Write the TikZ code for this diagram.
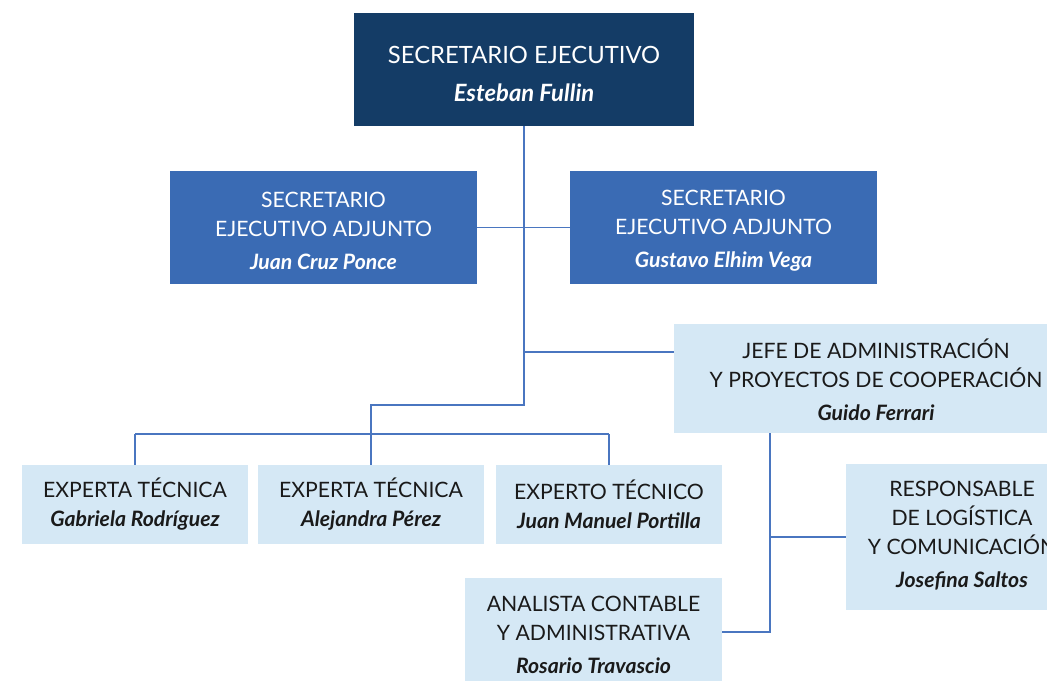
\documentclass[tikz,border=0pt]{standalone}
\usepackage{fontspec}
\setmainfont{Lato}
\definecolor{navy}{HTML}{143C66}
\definecolor{midblue}{HTML}{3A6BB4}
\definecolor{light}{HTML}{D5E8F5}
\definecolor{link}{HTML}{4A76C0}
\definecolor{ink}{HTML}{1A1A1A}
\tikzset{
  box/.style={rectangle, inner sep=0pt},
  topbox/.style={box, fill=navy},
  adjbox/.style={box, fill=midblue},
  lbox/.style={box, fill=light},
  txt/.style={inner sep=0pt, align=center, text=ink, font=\fontsize{21.2}{29}\selectfont},
  wtxt/.style={txt, text=white},
  conn/.style={draw=link, line width=1.5pt},
}
\newcommand{\nm}[1]{\textit{\textbf{#1}}}
\begin{document}
\begin{tikzpicture}[x=1pt,y=-1pt]
\useasboundingbox (0,0) rectangle (1047,681);
\clip (0,0) rectangle (1047,681);
\coordinate (j1) at (524,352);
\coordinate (j2) at (524,405);
\coordinate (j3) at (371,405);
\coordinate (h1) at (135,434);
\coordinate (h2) at (609,434);
\coordinate (v0) at (770,433);
\coordinate (v1) at (770,537);
\coordinate (v2) at (770,632);
% boxes
\node[topbox, minimum width=340pt, minimum height=113pt] (top) at (524,69.5) {};
\node[adjbox, minimum width=307pt, minimum height=113pt] (adjl) at (323.5,227.5) {};
\node[adjbox, minimum width=307pt, minimum height=113pt] (adjr) at (723.5,227.5) {};
\node[lbox, minimum width=404pt, minimum height=109pt] (jefe) at (876,378.5) {};
\node[lbox, minimum width=226pt, minimum height=79pt] (e1) at (135,504.5) {};
\node[lbox, minimum width=226pt, minimum height=79pt] (e2) at (371,504.5) {};
\node[lbox, minimum width=226pt, minimum height=79pt] (e3) at (609,504.5) {};
\node[lbox, minimum width=232pt, minimum height=146pt] (resp) at (962,537) {};
\node[lbox, minimum width=257pt, minimum height=103pt] (ana) at (593.5,629.5) {};
% texts
\node[wtxt, font=\fontsize{23.8}{38}\selectfont, yshift=-4pt] (toptxt) at (top)
  {SECRETARIO EJECUTIVO\\\nm{Esteban Fullin}};
\node[wtxt, yshift=-3pt] (adjltxt) at (adjl)
  {SECRETARIO\\EJECUTIVO ADJUNTO\\[4pt]\nm{Juan Cruz Ponce}};
\node[wtxt, yshift=-3pt] (adjrtxt) at (adjr)
  {SECRETARIO\\EJECUTIVO ADJUNTO\\[4pt]\nm{Gustavo Elhim Vega}};
\node[txt, yshift=-1pt] (jefetxt) at (jefe)
  {JEFE DE ADMINISTRACIÓN\\Y PROYECTOS DE COOPERACIÓN\\[4pt]\nm{Guido Ferrari}};
\node[txt] (e1txt) at (e1) {EXPERTA TÉCNICA\\\nm{Gabriela Rodríguez}};
\node[txt] (e2txt) at (e2) {EXPERTA TÉCNICA\\\nm{Alejandra Pérez}};
\node[txt] (e3txt) at (e3) {EXPERTO TÉCNICO\\\nm{Juan Manuel Portilla}};
\node[txt, yshift=1pt] (resptxt) at (resp)
  {RESPONSABLE\\DE LOGÍSTICA\\Y COMUNICACIÓN\\[4pt]\nm{Josefina Saltos}};
\node[txt, yshift=-5pt] (anatxt) at (ana)
  {ANALISTA CONTABLE\\Y ADMINISTRATIVA\\[4pt]\nm{Rosario Travascio}};
% connectors
\draw[conn] (top.south) -- (j2) -- (j3) -- (e2.north);
\draw[conn] (adjl.east) -- (adjr.west);
\draw[conn] (j1) -- (jefe.west |- j1);
\draw[conn] (h1) -- (h2);
\draw[conn] (h1) -- (e1.north);
\draw[conn] (h2) -- (e3.north);
\draw[conn] (v0) -- (v2) -- (ana.east |- v2);
\draw[conn] (v1) -- (resp.west |- v1);
\end{tikzpicture}
\end{document}
